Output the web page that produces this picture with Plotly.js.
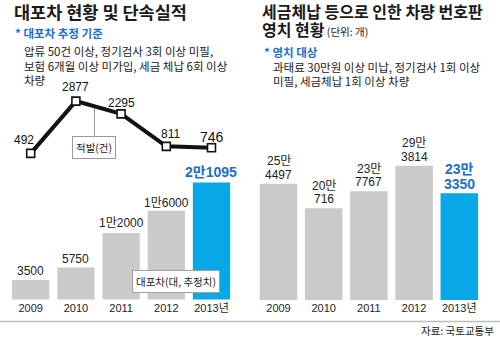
<!DOCTYPE html>
<html><head><meta charset="utf-8">
<script src="https://cdn.plot.ly/plotly-3.0.1.min.js"></script>
<style>html,body{margin:0;padding:0;background:#fff;}#chart{width:500px;height:339px;}</style>
</head><body><div id="chart"></div>
<script>
// ---- data ----
const years = ['2009', '2010', '2011', '2012', '2013년'];
const fakeCars = [3500, 5750, 12000, 16000, 21095];        // 대포차(대, 추정치)
const crackdowns = [492, 2877, 2295, 811, 746];             // 적발(건)
const plateSeizures = [254497, 200716, 237767, 293814, 233350]; // 번호판 영치(개)

// ---- styles ----
const W = 500, H = 339;
const GRAY = '#cacaca', BLUE = '#08a7e5', BLUE_TXT = '#1c6fc7';
const FONT = 'Liberation Sans, Arial, Noto Sans CJK KR, sans-serif';
const KFONT = 'Noto Sans CJK KR, Liberation Sans, sans-serif';
const px = x => x / W, py = y => 1 - y / H;

function manFmt(n) { return n < 10000 ? String(n) : Math.floor(n / 10000) + '만' + (n % 10000); }
const last = years.length - 1;
const barColors = years.map((_, i) => i === last ? BLUE : GRAY);

const traces = [
  { type: 'bar', x: years, y: fakeCars, xaxis: 'x', yaxis: 'y', width: 0.825,
    marker: { color: barColors }, hoverinfo: 'skip' },
  { type: 'scatter', mode: 'lines+markers', x: years, y: crackdowns, xaxis: 'x', yaxis: 'y2',
    line: { color: '#111', width: 4 },
    marker: { symbol: 'square', size: 8, color: '#fff', line: { color: '#111', width: 1.6 } },
    hoverinfo: 'skip', cliponaxis: false },
  { type: 'bar', x: years, y: plateSeizures, xaxis: 'x2', yaxis: 'y3', width: 0.83,
    marker: { color: barColors }, hoverinfo: 'skip' }
];

const ann = [];
// left bar labels (x given as category index)
const leftShift = [9, 9, 9.5, 8, 10];
fakeCars.forEach((v, i) => {
  const hi = i === last;
  ann.push({ xref: 'x', yref: 'y', x: i, y: v, text: manFmt(v), showarrow: false,
    yanchor: 'middle', yshift: leftShift[i],
    font: { family: FONT, size: hi ? 14 : 12, color: hi ? BLUE_TXT : '#222', weight: hi ? 700 : 400 } });
});
// line labels
const lineDx = [-7, 0, 0, 4, 1], lineDy = [13, 14, 11, 12, 11];
crackdowns.forEach((v, i) => {
  const hi = i === last;
  ann.push({ xref: 'x', yref: 'y2', x: i, y: v, text: String(v), showarrow: false,
    xshift: lineDx[i], yshift: lineDy[i],
    font: { family: FONT, size: hi ? 14 : 12, color: '#111' } });
});
// right bar labels (two lines)
plateSeizures.forEach((v, i) => {
  const hi = i === last;
  const f = { family: FONT, size: hi ? 14 : 12, color: hi ? BLUE_TXT : '#222', weight: hi ? 700 : 400 };
  ann.push({ xref: 'x2', yref: 'y3', x: i, y: v, text: Math.floor(v / 10000) + '만', showarrow: false, yshift: hi ? 24 : 22.3, font: f });
  ann.push({ xref: 'x2', yref: 'y3', x: i, y: v, text: String(v % 10000), showarrow: false, yshift: hi ? 9.5 : 9, font: f });
});

function txt(t, x, y, size, color, opts) {
  return Object.assign({ xref: 'paper', yref: 'paper', x: px(x), y: py(y), text: t, showarrow: false,
    xanchor: 'left', yanchor: 'middle', font: { family: KFONT, size: size, color: color } }, opts || {});
}
ann.push(txt('<b>대포차 현황 및 단속실적</b>', 12, 11, 17.5, '#1a1a1a'));
ann.push(txt('<b>* 대포차 추정 기준</b>', 13, 33, 11.5, BLUE_TXT));
ann.push(txt('압류 50건 이상, 정기검사 3회 이상 미필,', 22, 51, 11.5, '#222'));
ann.push(txt('보험 6개월 이상 미가입, 세금 체납 6회 이상', 22, 66, 11.5, '#222'));
ann.push(txt('차량', 22, 80, 11.5, '#222'));

ann.push(txt('<b>세금체납 등으로 인한 차량 번호판</b>', 260, 11, 16, '#1a1a1a'));
ann.push(txt('<b>영치 현황</b><span style="font-size:10.5px"> (단위: 개)</span>', 260, 29.5, 16, '#1a1a1a'));
ann.push(txt('<b>* 영치 대상</b>', 262, 52, 11.5, BLUE_TXT));
ann.push(txt('과태료 30만원 이상 미납, 정기검사 1회 이상', 271, 67, 11.5, '#222'));
ann.push(txt('미필, 세금체납 1회 이상 차량', 271, 81, 11.5, '#222'));

// legend boxes
ann.push(txt('적발(건)', 93.5, 147.5, 10.5, '#222',
  { xanchor: 'center', bgcolor: '#fff', bordercolor: '#9a9a9a', borderwidth: 1, borderpad: 3 }));
ann.push(txt('대포차(대, 추정치)', 176, 281.5, 10.5, '#222',
  { xanchor: 'center', bgcolor: '#fff', bordercolor: '#a0a0a0', borderwidth: 1, borderpad: 3 }));
// source
ann.push(txt('자료: 국토교통부', 496, 330, 10.5, '#222', { xanchor: 'right' }));

const shapes = [
  { type: 'line', xref: 'paper', yref: 'paper', x0: px(94.5), x1: px(94.5), y0: py(107), y1: py(137),
    line: { color: '#9a9a9a', width: 1 }, layer: 'below' },
  { type: 'line', xref: 'paper', yref: 'paper', x0: 0, x1: 1, y0: py(321.5), y1: py(321.5),
    line: { color: '#bdbdbd', width: 1.5 } }
];

const axBase = { type: 'category', showgrid: false, zeroline: false, showline: false, ticks: '',
  tickfont: { family: FONT, size: 11, color: '#222' }, fixedrange: true, anchor: 'free', position: (H - 299.5) / H };
const hid = { visible: false, fixedrange: true, showgrid: false, zeroline: false };

const layout = {
  width: W, height: H, margin: { l: 0, r: 0, t: 0, b: 0 },
  paper_bgcolor: '#fff', plot_bgcolor: 'rgba(0,0,0,0)', showlegend: false,
  barmode: 'overlay',
  xaxis: Object.assign({}, axBase, { domain: [0, 0.5], range: [-0.679, 4.852] }),
  xaxis2: Object.assign({}, axBase, { domain: [0.5, 1], range: [-0.6305, 4.9004] }),
  yaxis: Object.assign({}, hid, { domain: [0, 1], range: [-7117, 53964] }),
  yaxis2: Object.assign({}, hid, { domain: [0, 1], overlaying: 'y', range: [-7986, 7493] }),
  yaxis3: Object.assign({}, hid, { domain: [0, 1], anchor: 'x2', range: [-85339, 656455] }),
  annotations: ann, shapes: shapes
};

Plotly.newPlot('chart', traces, layout, { staticPlot: true, displayModeBar: false });
</script></body></html>
